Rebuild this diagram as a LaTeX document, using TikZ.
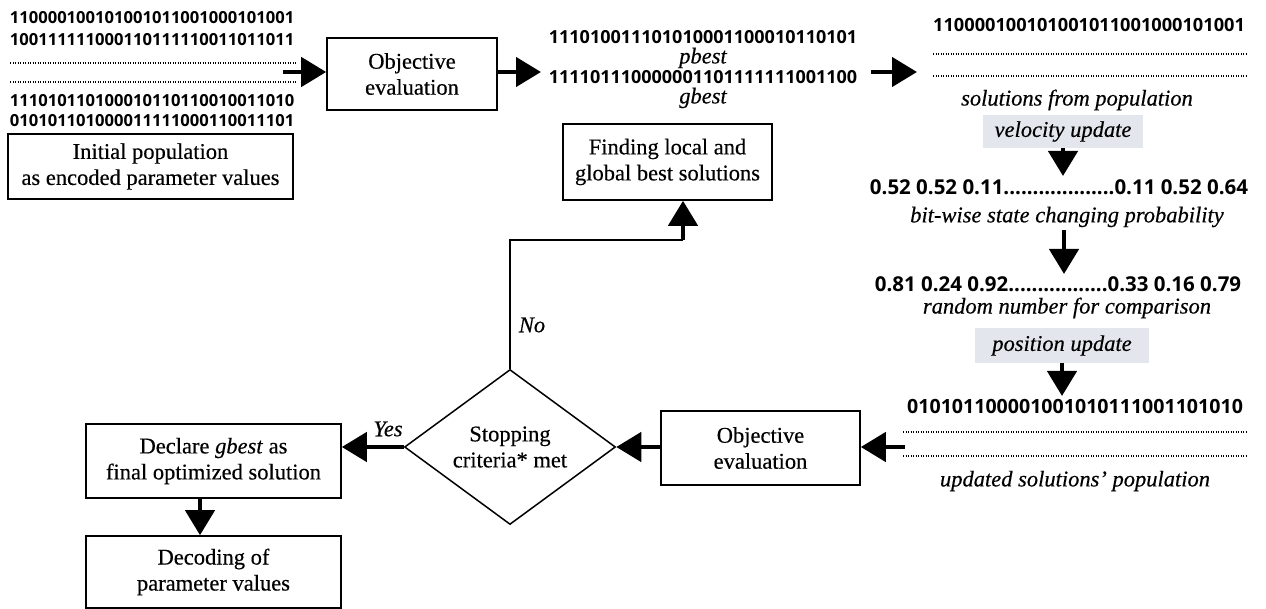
\documentclass[tikz,border=0pt]{standalone}
\usepackage{fontspec}
\setmainfont{Liberation Serif}[FakeBold=0.4]
\newfontfamily\bitfont{Open Sans}
\usetikzlibrary{arrows.meta,shapes.geometric}
\definecolor{updfill}{HTML}{E3E7ED}
\newcommand\bodysize{\fontsize{22.5}{26}\selectfont}
\begin{document}
\begin{tikzpicture}[x=1pt,y=-1pt,
  box/.style={draw, line width=1.6pt, align=center, inner sep=0pt, font=\bodysize},
  bits/.style={inner sep=0pt, font=\bitfont\bfseries\fontsize{#1}{#1}\selectfont},
  lab/.style={inner sep=0pt, font=\bodysize\itshape},
  updbox/.style={fill=updfill, inner sep=0pt, font=\bodysize\itshape},
  dotrow/.style={line width=1.6pt, dash pattern=on 1.4pt off 1.1pt},
  arr/.style={line width=4.5pt, -{Triangle[length=25pt,width=29pt]}},
  link/.style={line width=1.8pt},
]
\useasboundingbox (0,0) rectangle (1266,609);

% ---- initial population ----
\node[bits=16.6] (b1) at (152,18) {110000100101001011001000101001};
\node[bits=16.6] (b2) at (152,40) {100111111000110111110011011011};
\coordinate (d1a) at (10,63);  \coordinate (d1b) at (296,63);
\coordinate (d2a) at (10,82);  \coordinate (d2b) at (296,82);
\draw[dotrow] (d1a) -- (d1b);
\draw[dotrow] (d2a) -- (d2b);
\node[bits=16.6] (b3) at (152,101) {111010110100010110110010011010};
\node[bits=16.6] (b4) at (152,121) {010101101000011111000110011101};
\node[box, minimum width=285pt, minimum height=65pt] (init) at (150.5,166.5)
  {Initial population\\as encoded parameter values};

% ---- first evaluation ----
\node[box, minimum width=170pt, minimum height=72pt] (obj1) at (412,74)
  {Objective\\evaluation};
\coordinate (a0) at (283,72);
\draw[arr] (a0) -- (a0 -| obj1.west);

% ---- personal / global best ----
\node[bits=18] (pb) at (703,37) {111010011101010001100010110101};
\node[lab] (pbl) at (703,58) {pbest};
\node[bits=18] (gb) at (703,77) {111101110000001101111111001100};
\node[lab] (gbl) at (703,98) {gbest};
\coordinate (pbin) at (541,72);
\draw[arr] (obj1.east |- pbin) -- (pbin);
\node[box, minimum width=209pt, minimum height=76pt] (find) at (667.5,162)
  {Finding local and\\global best solutions};

% ---- velocity and position update ----
\coordinate (r0) at (871,72); \coordinate (r1) at (917,72);
\draw[arr] (r0) -- (r1);
\node[bits=18.2] (s1) at (1089,25) {110000100101001011001000101001};
\coordinate (d3a) at (933,54);  \coordinate (d3b) at (1246,54);
\coordinate (d4a) at (933,76);  \coordinate (d4b) at (1246,76);
\draw[dotrow] (d3a) -- (d3b);
\draw[dotrow] (d4a) -- (d4b);
\node[lab] (sol) at (1077,100) {solutions from population};
\node[updbox, minimum width=160pt, minimum height=33pt] (vel) at (1063,131.5) {velocity update};
\coordinate (v1) at (1063,176);
\draw[arr] (vel.south) -- (v1);
\node[bits=20.5] (n1) at (1059,187) {0.52 0.52 0.11...................0.11 0.52 0.64};
\node[lab] (bw) at (1067,217) {bit-wise state changing probability};
\coordinate (v2a) at (1064,230); \coordinate (v2b) at (1064,274);
\draw[arr] (v2a) -- (v2b);
\node[bits=20.5] (n2) at (1058,284) {0.81 0.24 0.92.................0.33 0.16 0.79};
\node[lab] (rn) at (1067,308) {random number for comparison};
\node[updbox, minimum width=174pt, minimum height=35pt] (pos) at (1062,345.5) {position update};
\coordinate (v3) at (1062,396);
\draw[arr] (pos.south) -- (v3);
\node[bits=19.6] (s2) at (1075,406) {010101100001001010111001101010};
\coordinate (d5a) at (903,432);  \coordinate (d5b) at (1246,432);
\coordinate (d6a) at (903,456);  \coordinate (d6b) at (1246,456);
\draw[dotrow] (d5a) -- (d5b);
\draw[dotrow] (d6a) -- (d6b);
\node[lab] (upd) at (1075,481) {updated solutions' population};

% ---- second evaluation and stopping test ----
\node[box, minimum width=199pt, minimum height=74pt] (obj2) at (760.5,448)
  {Objective\\evaluation};
\coordinate (u0) at (905,447);
\draw[arr] (u0) -- (u0 -| obj2.east);
\node[draw, line width=1.5pt, shape=diamond, aspect=1.36, inner sep=0pt,
      minimum width=211pt, minimum height=155pt, align=center, font=\bodysize]
      (dia) at (510,447) {Stopping\\criteria* met};
\draw[arr] (obj2.west |- dia.east) -- (dia.east);

% ---- termination ----
\node[box, minimum width=255pt, minimum height=74pt] (decl) at (213.5,461)
  {Declare \textit{gbest} as\\final optimized solution};
\draw[arr] (dia.west) -- (dia.west -| decl.east);
\node[lab] (yes) at (388,429) {Yes};
\node[box, minimum width=255pt, minimum height=72pt] (dec) at (213.5,572)
  {Decoding of\\parameter values};
\coordinate (dx) at (200,0);
\draw[arr] (decl.south -| dx) -- (dec.north -| dx);

% ---- loop back ----
\coordinate (nc) at (683,240);
\draw[link] (dia.north) |- (nc);
\draw[arr] (nc) -- (find.south -| nc);
\node[lab] (no) at (532,325) {No};
\end{tikzpicture}
\end{document}
